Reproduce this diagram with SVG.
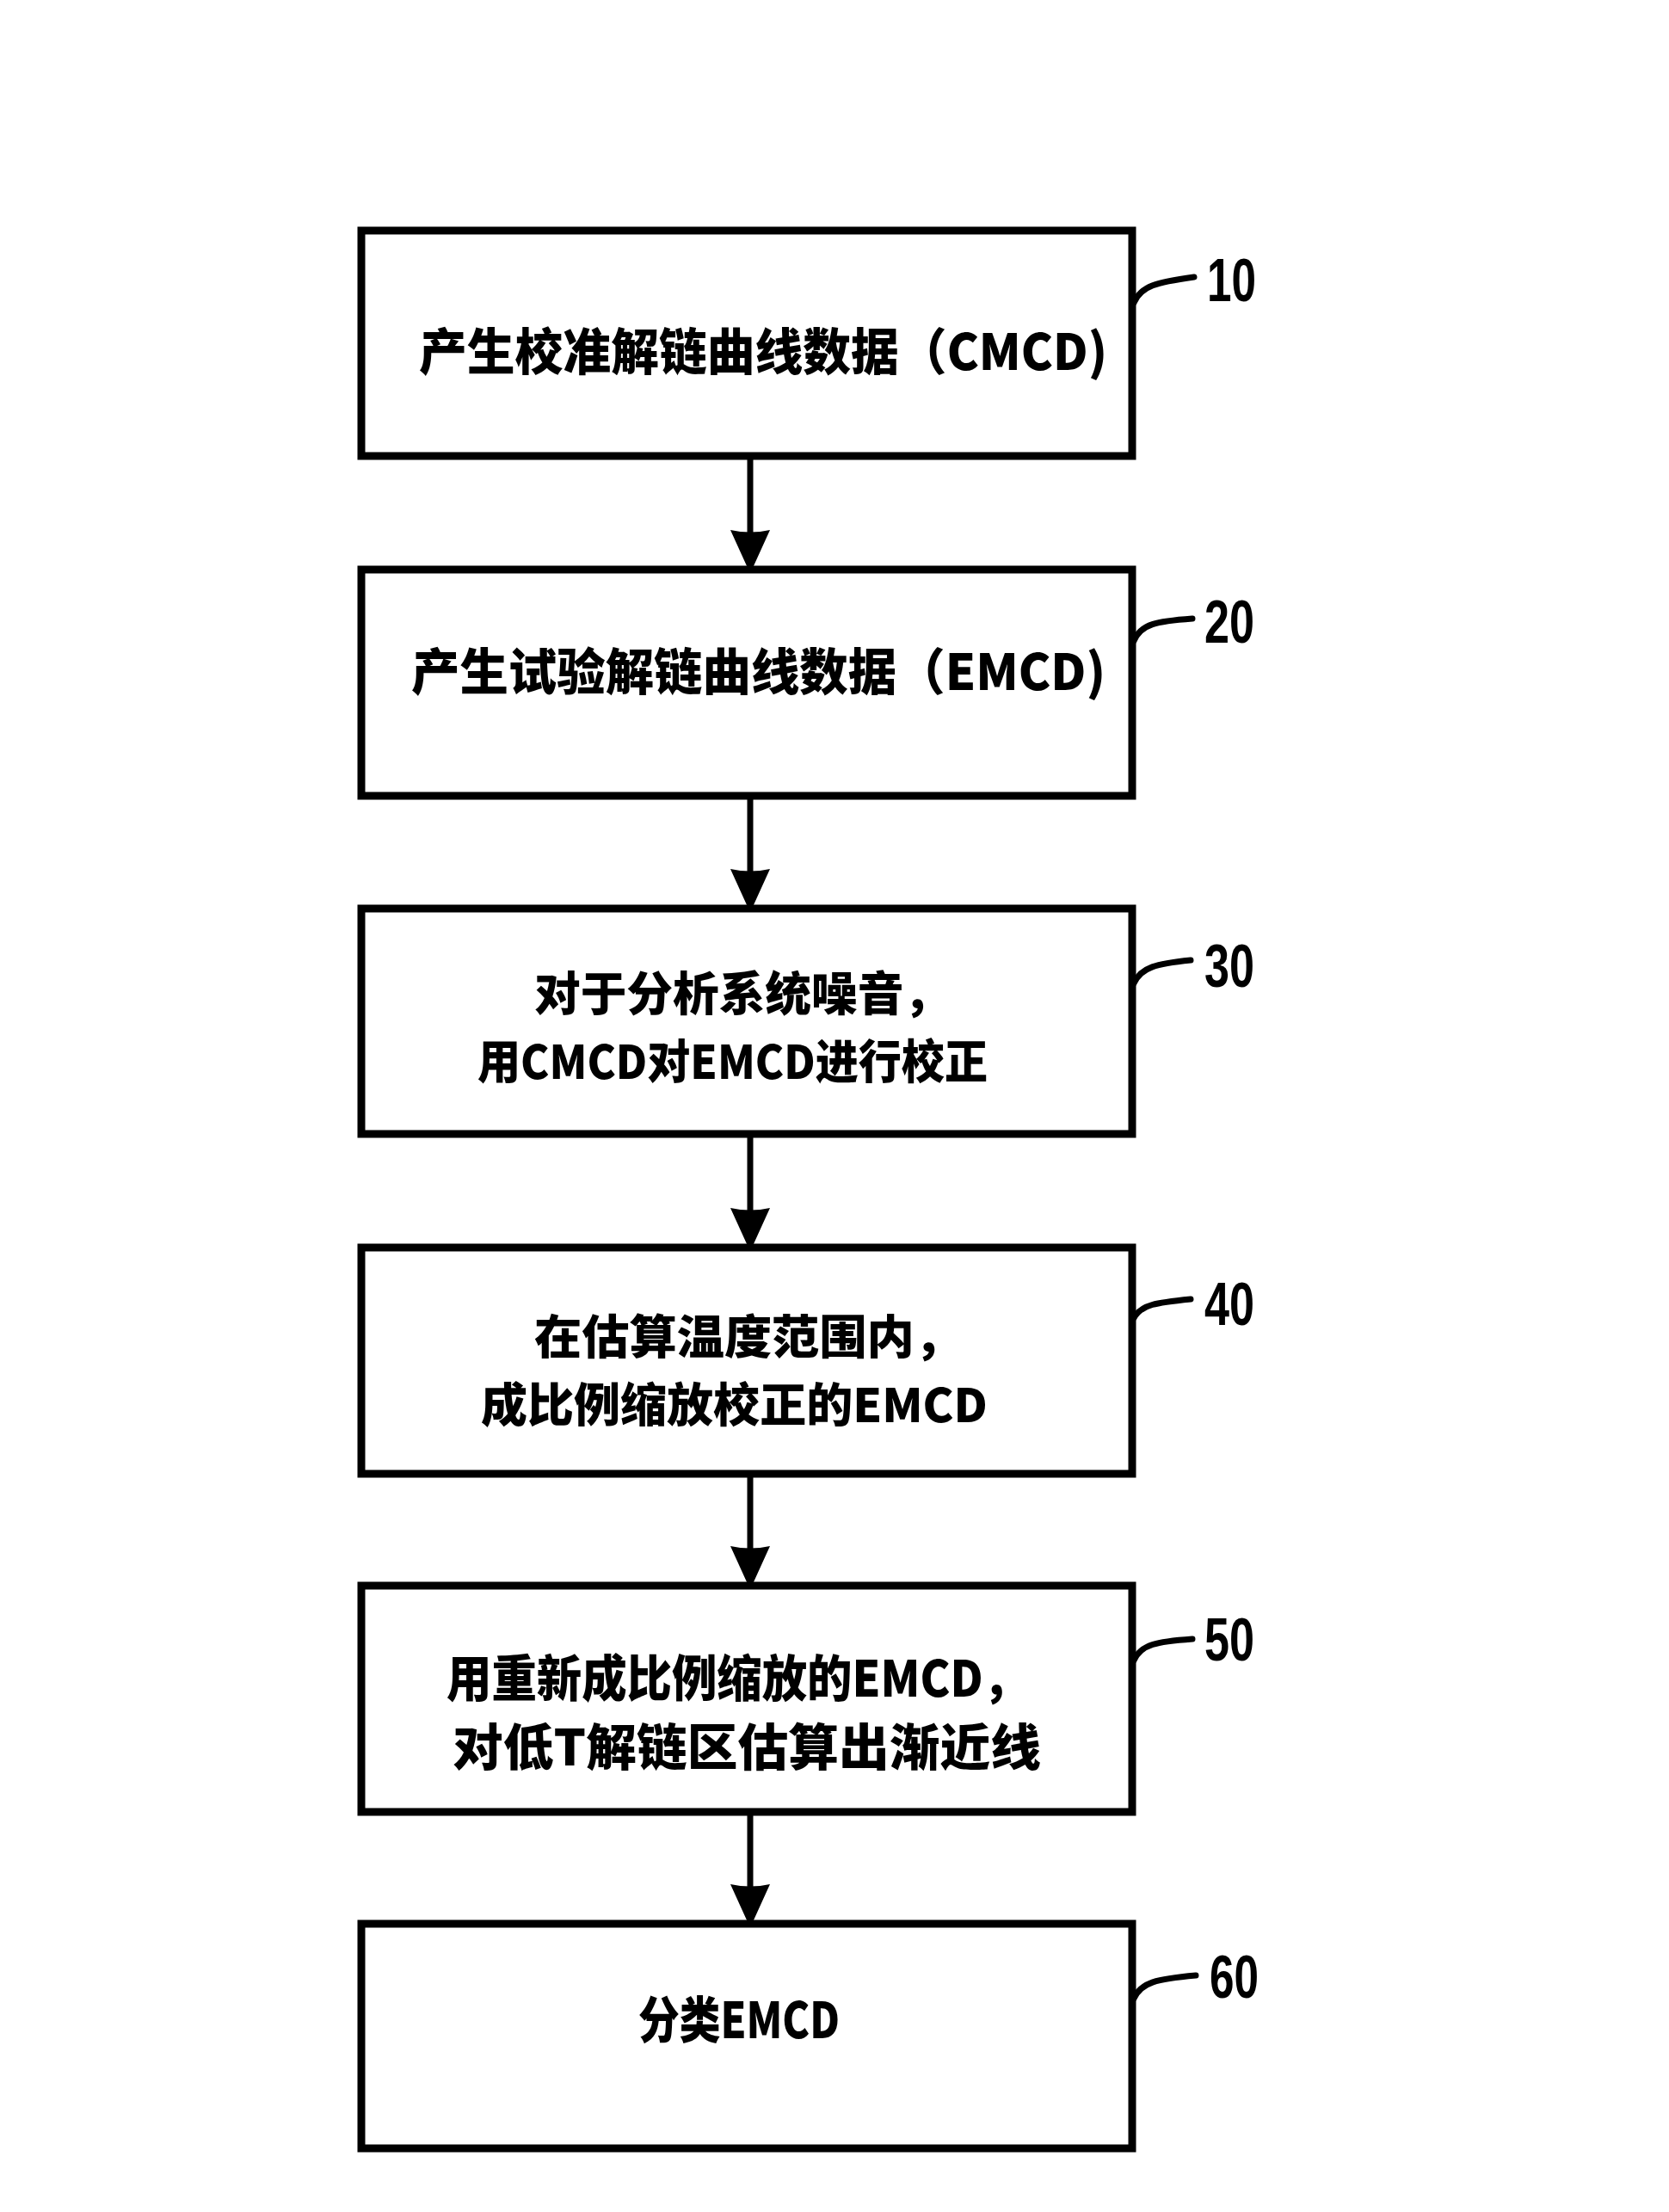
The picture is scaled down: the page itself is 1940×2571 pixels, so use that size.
<svg xmlns="http://www.w3.org/2000/svg" width="1940" height="2571" viewBox="0 0 1940 2571">
  <style>
    .box { fill: #ffffff; stroke: #000000; stroke-width: 9; }
    .t { font-family: "Noto Sans CJK SC", "Noto Sans", sans-serif; font-weight: 900; font-size: 58px; fill: #000000; }
    .t2 { font-family: "Noto Sans CJK SC", "Noto Sans", sans-serif; font-weight: 900; font-size: 54px; fill: #000000; }
    .lbl { font-family: "Liberation Sans", Arial, sans-serif; font-weight: 700; font-size: 70px; fill: #000000; }
    .lead { fill: none; stroke: #000000; stroke-width: 7; stroke-linecap: round; }
    .conn { fill: none; stroke: #000000; stroke-width: 7; }
  </style>
  <defs>
    <marker id="ah" viewBox="0 0 44 48" refX="43" refY="24" markerWidth="44" markerHeight="48" markerUnits="userSpaceOnUse" orient="auto">
      <path d="M0 1 L44 21 L44 27 L0 47 Q5 24 0 1 Z" fill="#000000"/>
    </marker>
  </defs>
  <rect width="1940" height="2571" fill="#ffffff"/>

  <g id="connectors">
    <line class="conn" x1="872" y1="534" x2="872" y2="659" marker-end="url(#ah)"/>
    <line class="conn" x1="872" y1="929" x2="872" y2="1053" marker-end="url(#ah)"/>
    <line class="conn" x1="872" y1="1322" x2="872" y2="1447" marker-end="url(#ah)"/>
    <line class="conn" x1="872" y1="1717" x2="872" y2="1840" marker-end="url(#ah)"/>
    <line class="conn" x1="872" y1="2110" x2="872" y2="2233" marker-end="url(#ah)"/>
  </g>

  <g id="node10">
    <rect class="box" x="420" y="268" width="896" height="262"/>
    <text class="t" x="487" y="430" textLength="800" lengthAdjust="spacingAndGlyphs">产生校准解链曲线数据（CMCD)</text>
    <path class="lead" d="M1318 352 C1326 332 1345 328 1388 322"/>
    <text class="lbl" x="1403" y="350" textLength="57" lengthAdjust="spacingAndGlyphs">10</text>
  </g>

  <g id="node20">
    <rect class="box" x="420" y="662" width="896" height="263"/>
    <text class="t" x="478" y="802" textLength="807" lengthAdjust="spacingAndGlyphs">产生试验解链曲线数据（EMCD)</text>
    <path class="lead" d="M1318 745 C1326 725 1345 722 1386 719"/>
    <text class="lbl" x="1400" y="747" textLength="58" lengthAdjust="spacingAndGlyphs">20</text>
  </g>

  <g id="node30">
    <rect class="box" x="420" y="1056" width="896" height="262"/>
    <text class="t2"><tspan x="621" y="1175" textLength="483" lengthAdjust="spacingAndGlyphs">对于分析系统噪音，</tspan><tspan x="555" y="1254" textLength="593" lengthAdjust="spacingAndGlyphs">用CMCD对EMCD进行校正</tspan></text>
    <path class="lead" d="M1318 1143 C1326 1124 1345 1120 1384 1116"/>
    <text class="lbl" x="1400" y="1147" textLength="58" lengthAdjust="spacingAndGlyphs">30</text>
  </g>

  <g id="node40">
    <rect class="box" x="420" y="1450" width="896" height="263"/>
    <text class="t2"><tspan x="621" y="1574" textLength="497" lengthAdjust="spacingAndGlyphs">在估算温度范围内，</tspan><tspan x="559" y="1653" textLength="589" lengthAdjust="spacingAndGlyphs">成比例缩放校正的EMCD</tspan></text>
    <path class="lead" d="M1318 1532 C1326 1516 1345 1514 1384 1510"/>
    <text class="lbl" x="1400" y="1540" textLength="58" lengthAdjust="spacingAndGlyphs">40</text>
  </g>

  <g id="node50">
    <rect class="box" x="420" y="1843" width="896" height="263"/>
    <text class="t"><tspan x="519" y="1972" textLength="676" lengthAdjust="spacingAndGlyphs">用重新成比例缩放的EMCD，</tspan><tspan x="526" y="2052" textLength="684" lengthAdjust="spacingAndGlyphs">对低T解链区估算出渐近线</tspan></text>
    <path class="lead" d="M1318 1930 C1326 1911 1345 1908 1386 1905"/>
    <text class="lbl" x="1400" y="1930" textLength="58" lengthAdjust="spacingAndGlyphs">50</text>
  </g>

  <g id="node60">
    <rect class="box" x="420" y="2236" width="896" height="261"/>
    <text class="t" x="742" y="2369" textLength="234" lengthAdjust="spacingAndGlyphs">分类EMCD</text>
    <path class="lead" d="M1318 2323 C1326 2304 1345 2300 1390 2296"/>
    <text class="lbl" x="1406" y="2322" textLength="57" lengthAdjust="spacingAndGlyphs">60</text>
  </g>
</svg>
